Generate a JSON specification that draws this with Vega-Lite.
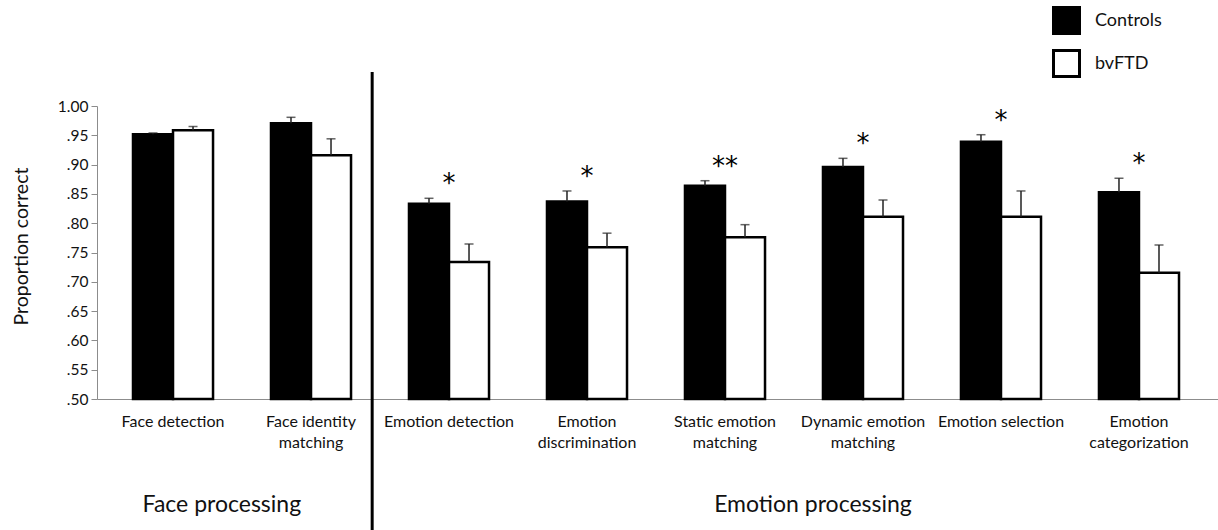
{
  "$schema": "https://vega.github.io/schema/vega-lite/v6.json",
  "width": 1121,
  "height": 293,
  "autosize": {"type": "none"},
  "padding": {"left": 97, "top": 106, "right": 0, "bottom": 131},
  "background": "white",
  "config": {
    "font": "Lato",
    "view": {"stroke": null},
    "axis": {"domainColor": "#8c8c8c", "tickColor": "#8c8c8c", "labelColor": "#111", "titleColor": "#111", "grid": false}
  },
  "resolve": {"axis": {"y": "independent"}},
  "datasets": {
    "scores": [
      {"task": "Face detection", "group": "Controls", "value": 0.952, "upper": 0.954, "sig": ""},
      {"task": "Face detection", "group": "bvFTD", "value": 0.9585, "upper": 0.965, "sig": ""},
      {"task": "Face identity matching", "group": "Controls", "value": 0.9705, "upper": 0.9807, "sig": ""},
      {"task": "Face identity matching", "group": "bvFTD", "value": 0.916, "upper": 0.944, "sig": ""},
      {"task": "Emotion detection", "group": "Controls", "value": 0.833, "upper": 0.8425, "sig": "*"},
      {"task": "Emotion detection", "group": "bvFTD", "value": 0.734, "upper": 0.7645, "sig": ""},
      {"task": "Emotion discrimination", "group": "Controls", "value": 0.837, "upper": 0.855, "sig": "*"},
      {"task": "Emotion discrimination", "group": "bvFTD", "value": 0.759, "upper": 0.783, "sig": ""},
      {"task": "Static emotion matching", "group": "Controls", "value": 0.864, "upper": 0.8725, "sig": "**"},
      {"task": "Static emotion matching", "group": "bvFTD", "value": 0.776, "upper": 0.7975, "sig": ""},
      {"task": "Dynamic emotion matching", "group": "Controls", "value": 0.896, "upper": 0.9107, "sig": "*"},
      {"task": "Dynamic emotion matching", "group": "bvFTD", "value": 0.811, "upper": 0.8396, "sig": ""},
      {"task": "Emotion selection", "group": "Controls", "value": 0.939, "upper": 0.951, "sig": "*"},
      {"task": "Emotion selection", "group": "bvFTD", "value": 0.811, "upper": 0.855, "sig": ""},
      {"task": "Emotion categorization", "group": "Controls", "value": 0.853, "upper": 0.8766, "sig": "*"},
      {"task": "Emotion categorization", "group": "bvFTD", "value": 0.7156, "upper": 0.7628, "sig": ""}
    ]
  },
  "data": {"name": "scores"},
  "encoding": {
    "x": {
      "field": "task",
      "type": "nominal",
      "sort": null,
      "scale": {
        "type": "band",
        "domain": ["Face detection", "Face identity matching", "Emotion detection", "Emotion discrimination", "Static emotion matching", "Dynamic emotion matching", "Emotion selection", "Emotion categorization"],
        "paddingInner": 0.42,
        "paddingOuter": 0.2717,
        "align": 0.48,
        "round": false
      },
      "axis": {
        "title": null,
        "labelAngle": 0,
        "ticks": false,
        "labelFontSize": 16,
        "labelPadding": 22,
        "labelLineHeight": 21,
        "labelBaseline": "middle",
        "labelExpr": "datum.label == 'Face identity matching' ? ['Face identity', 'matching'] : datum.label == 'Emotion discrimination' ? ['Emotion', 'discrimination'] : datum.label == 'Static emotion matching' ? ['Static emotion', 'matching'] : datum.label == 'Dynamic emotion matching' ? ['Dynamic emotion', 'matching'] : datum.label == 'Emotion categorization' ? ['Emotion', 'categorization'] : datum.label"
      }
    }
  },
  "layer": [
    {
      "mark": {"type": "bar", "stroke": "black", "strokeWidth": 2.5},
      "encoding": {
        "xOffset": {"field": "group", "type": "nominal", "scale": {"domain": ["Controls", "bvFTD"], "paddingInner": 0, "paddingOuter": 0}},
        "y": {
          "field": "value",
          "type": "quantitative",
          "scale": {"domain": [0.5, 1.0], "zero": false, "nice": false},
          "axis": {
            "title": "Proportion correct",
            "titleFontSize": 19.5,
            "titleFontWeight": "normal",
            "titlePadding": 26,
            "titleY": 140,
            "values": [0.5, 0.55, 0.6, 0.65, 0.7, 0.75, 0.8, 0.85, 0.9, 0.95, 1.0],
            "labelExpr": "datum.value < 0.999 ? slice(format(datum.value, '.2f'), 1) : format(datum.value, '.2f')",
            "labelFontSize": 15.5,
            "labelOverlap": false,
            "labelFlush": false,
            "tickSize": 6,
            "labelPadding": 3
          }
        },
        "y2": {"datum": 0.5},
        "fill": {
          "field": "group",
          "type": "nominal",
          "scale": {"domain": ["Controls", "bvFTD"], "range": ["black", "white"]},
          "legend": {
            "title": null,
            "orient": "none",
            "legendX": 955,
            "legendY": -100,
            "symbolType": "square",
            "symbolSize": 676,
            "symbolStrokeColor": "black",
            "symbolStrokeWidth": 3,
            "labelFontSize": 18,
            "labelColor": "#111",
            "labelOffset": 14,
            "rowPadding": 4,
            "padding": 0
          }
        }
      }
    },
    {
      "mark": {"type": "rule", "color": "#222", "strokeWidth": 1.5},
      "encoding": {
        "xOffset": {"field": "group", "type": "nominal"},
        "y": {"field": "value", "type": "quantitative", "axis": null},
        "y2": {"field": "upper"}
      }
    },
    {
      "mark": {"type": "tick", "color": "#222", "thickness": 1.5, "size": 9, "orient": "horizontal"},
      "encoding": {
        "xOffset": {"field": "group", "type": "nominal"},
        "y": {"field": "upper", "type": "quantitative", "axis": null}
      }
    },
    {
      "transform": [{"filter": "datum.sig != ''"}],
      "mark": {"type": "text", "font": "DejaVu Sans", "fontSize": 26, "baseline": "middle", "dy": -14, "color": "black"},
      "encoding": {
        "y": {"field": "upper", "type": "quantitative", "axis": null},
        "text": {"field": "sig"}
      }
    },
    {
      "data": {"values": [{}]},
      "mark": {"type": "rule", "color": "black", "strokeWidth": 3, "clip": false},
      "encoding": {
        "x": {"datum": "Emotion detection", "type": "nominal", "bandPosition": -0.46},
        "y": {"datum": 1.058, "type": "quantitative", "axis": null},
        "y2": {"datum": 0.2765}
      }
    },
    {
      "data": {"values": [{"label": "Face processing"}]},
      "mark": {"type": "text", "fontSize": 23, "baseline": "middle", "align": "center", "color": "#111"},
      "encoding": {
        "x": {"datum": "Face detection", "type": "nominal", "bandPosition": 1.11},
        "y": {"datum": 0.319, "type": "quantitative", "axis": null},
        "text": {"field": "label"}
      }
    },
    {
      "data": {"values": [{"label": "Emotion processing"}]},
      "mark": {"type": "text", "fontSize": 23, "baseline": "middle", "align": "center", "color": "#111"},
      "encoding": {
        "x": {"datum": "Dynamic emotion matching", "type": "nominal", "bandPosition": -0.125},
        "y": {"datum": 0.319, "type": "quantitative", "axis": null},
        "text": {"field": "label"}
      }
    }
  ]
}
